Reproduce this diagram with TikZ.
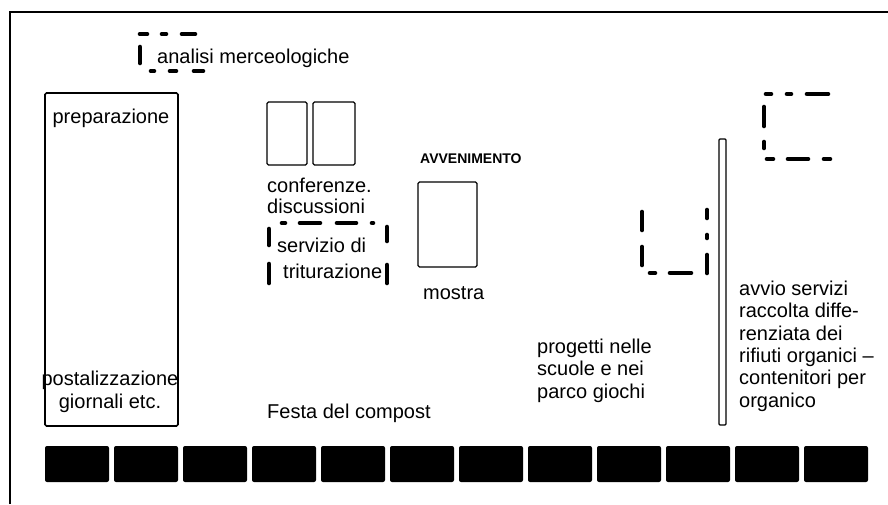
\documentclass[tikz,border=0pt]{standalone}
\usepackage{fontspec}
\setmainfont{Liberation Sans}
\begin{document}
\begin{tikzpicture}[x=1pt,y=-1pt,
  txt/.style={inner sep=0pt, anchor=base west, font=\fontsize{20}{22.3}\selectfont, align=left},
  frame/.style={draw=black, line width=1.6pt, rounded corners=1.5pt},
  dsh/.style={line width=4.6pt, line cap=round},
  blk/.style={fill=black, rounded corners=2pt},
  ]
\useasboundingbox (0,0) rectangle (888,504);
\fill[white] (0,0) rectangle (888,504);
% outer frame (left and top)
\coordinate (fa) at (10,504);
\coordinate (fb) at (10,12);
\coordinate (fc) at (888,12);
\draw[line width=2.2pt] (fa) -- (fb) -- (fc);

% analisi merceologiche
\draw[dsh] (140,34) -- (147,34) (162,34) -- (166,34) (182,34) -- (195,34);
\draw[dsh] (140,47) -- (140,63);
\draw[dsh] (151,71) -- (154,71) (170,71) -- (176,71) (194,71) -- (203,71);
\node[txt] (analisi) at (157,63) {analisi merceologiche};

% preparazione box
\draw[frame] (45,93) rectangle (178,426);
\node[txt, anchor=base] (prep) at (111,123) {preparazione};
\node[txt, anchor=base] (post) at (110,385) {postalizzazione};
\node[txt, anchor=base] (giorn) at (110,408) {giornali etc.};

% conferenze
\draw[frame, line width=1.3pt] (267,102) rectangle (307,165);
\draw[frame, line width=1.3pt] (313,102) rectangle (355,165);
\node[txt] (conf) at (267,192) {conferenze.};
\node[txt] (disc) at (267,213) {discussioni};

% servizio di triturazione
\draw[dsh] (282,223) -- (285,223) (300,223) -- (320,223) (337,223) -- (356,223) (372,223) -- (373,223);
\draw[dsh] (269,229) -- (269,245) (269,264) -- (269,283);
\draw[dsh] (387,227) -- (387,241) (387,265) -- (387,283);
\node[txt] (serv) at (277,252) {servizio di};
\node[txt] (trit) at (283,278) {triturazione};

% avvenimento / mostra
\node[txt, font=\bfseries\fontsize{14}{16}\selectfont] (avv) at (420,163) {AVVENIMENTO};
\draw[frame, line width=1.3pt] (418,182) rectangle (477,267);
\node[txt] (mostra) at (423,299) {mostra};

% progetti dashed
\draw[dsh] (642,212) -- (642,230) (642,247) -- (642,265);
\draw[dsh] (650,273) -- (655,273) (670,273) -- (691,273);
\draw[dsh] (707,210) -- (707,218) (707,235) -- (707,238) (707,255) -- (707,273);
\node[txt] (prog) at (537,398) {progetti nelle\\scuole e nei\\parco giochi};

% tall thin rect
\draw[line width=1.2pt, rounded corners=1pt] (719,139) rectangle (726,425);

% top-right dashed
\draw[dsh] (766,94) -- (771,94) (787,94) -- (791,94) (807,94) -- (828,94);
\draw[dsh] (764,107) -- (764,126) (764,142) -- (764,148);
\draw[dsh] (767,159) -- (773,159) (788,159) -- (808,159) (824,159) -- (830,159);

\node[txt] (avvio) at (739,407) {avvio servizi\\raccolta diffe-\\renziata dei\\rifiuti organici --\\contenitori per\\organico};

\node[txt] (festa) at (267,418) {Festa del compost};

% timeline squares
\foreach \i in {0,...,11} {
  \fill[blk] ({45+69*\i},446) rectangle ({109+69*\i},482);
}
\end{tikzpicture}
\end{document}
